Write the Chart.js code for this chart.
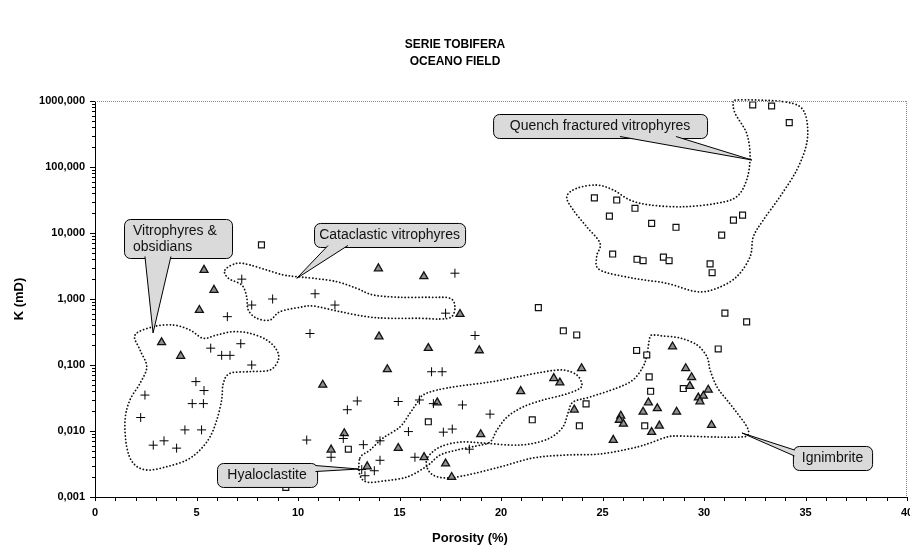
<!DOCTYPE html>
<html><head><meta charset="utf-8">
<script src="https://cdn.jsdelivr.net/npm/chart.js@4/dist/chart.umd.min.js"></script>
<style>html,body{margin:0;padding:0;background:#fff}</style>
</head><body>
<canvas id="c" width="910" height="546"></canvas>
<script>
// ---------- DATA ----------
const chartTitle = ['SERIE TOBIFERA', 'OCEANO FIELD'];
const xAxisTitle = 'Porosity (%)';
const yAxisTitle = 'K (mD)';
const xTickLabels = ['0','5','10','15','20','25','30','35','40'];
const xTickValues = [0,5,10,15,20,25,30,35,40];
const yTickLabels = ['0,001','0,010','0,100','1,000','10,000','100,000','1000,000'];
const yMajorTicks = [0.001,0.01,0.1,1,10,100,1000];

// Series 1: crosses
const crossX = [7.23,7.72,8.75,6.52,5.70,6.24,6.65,7.18,7.72,4.97,5.37,4.79,5.34,2.46,2.25,4.43,5.25,2.87,3.40,4.02,
  17.73,10.84,11.82,17.27,10.59,18.72,16.58,17.10,12.92,12.43,14.94,15.98,16.67,18.10,19.46,10.43,12.23,11.63,13.22,14.04,
  15.44,17.16,17.60,14.04,15.76,18.44,13.14,13.76,13.30];
const crossK = [2.0,0.81,1.0,0.54,0.18,0.14,0.14,0.21,0.10,0.056,0.041,0.026,0.026,0.035,0.016,0.0104,0.0104,0.0061,0.0071,0.0055,
  2.46,1.2,0.81,0.61,0.30,0.28,0.079,0.079,0.0285,0.021,0.028,0.0295,0.026,0.0248,0.018,0.0073,0.0077,0.0040,0.0062,0.0071,
  0.0098,0.0096,0.0107,0.0036,0.0040,0.0053,0.0026,0.0025,0.0021];
// Series 2: triangles
const triX = [5.37,5.86,5.14,3.28,4.22,
  13.96,16.20,17.98,13.99,16.42,18.93,14.40,11.22,16.86,12.28,11.63,19.00,14.94,16.21,17.27,13.41,17.57,
  28.45,23.97,22.60,22.90,20.97,23.61,27.26,27.00,27.70,28.65,25.90,25.83,26.03,27.80,27.42,25.53,29.10,29.39,29.30,30.21,29.72,29.97,29.80,30.37];
const triK = [2.75,1.37,0.68,0.22,0.137,
  2.9,2.2,0.59,0.27,0.18,0.166,0.086,0.05,0.027,0.0092,0.0052,0.0089,0.0055,0.0040,0.0032,0.0029,0.0020,
  0.19,0.089,0.063,0.054,0.040,0.021,0.027,0.0195,0.022,0.0195,0.017,0.0147,0.0128,0.012,0.0096,0.0073,0.089,0.065,0.048,0.042,0.032,0.034,0.028,0.0123];
// Series 3: squares
const sqX = [8.20,16.42,12.48,9.40,21.84,23.07,23.73,26.68,27.18,27.30,27.37,24.19,21.54,23.86,27.08,31.03,32.10,30.70,28.98,
  32.40,33.33,34.20,24.60,25.70,25.34,26.60,27.42,28.62,30.87,31.45,31.90,25.50,26.70,27.00,28.00,28.28,30.30,30.40];
const sqK = [6.6,0.0138,0.0053,0.0014,0.74,0.33,0.285,0.166,0.142,0.066,0.040,0.0257,0.0148,0.012,0.012,0.61,0.45,0.175,0.044,
  870,840,470,34,31.6,18,23.7,14,12.2,9.3,15.7,18.7,4.8,4.0,3.8,4.3,3.8,3.4,2.5];

// Region outlines: [porosity, log10(K)]
const regionVitro = [[1.97,-0.545],[2.87,-0.42],[3.86,-0.394],[4.68,-0.47],[5.33,-0.595],[6.0,-0.545],[6.81,-0.495],[7.64,-0.52],[8.46,-0.621],[8.95,-0.773],[9.03,-0.924],[8.62,-1.076],[7.64,-1.1],[6.65,-1.126],[6.32,-1.277],[6.24,-1.53],[6.0,-1.833],[5.67,-2.086],[5.17,-2.288],[4.52,-2.44],[3.53,-2.541],[2.55,-2.591],[1.89,-2.489],[1.56,-2.238],[1.48,-1.833],[1.72,-1.53],[2.22,-1.277],[2.55,-1.026],[2.22,-0.773]];
const regionCata = [[6.40,0.439],[6.98,0.541],[7.64,0.515],[8.46,0.439],[9.28,0.364],[9.94,0.338],[10.75,0.314],[11.91,0.262],[12.89,0.162],[13.71,0.061],[15.02,0.026],[16.50,0.026],[17.49,0.011],[17.73,-0.117],[17.57,-0.268],[17.0,-0.303],[16.01,-0.292],[14.53,-0.292],[13.38,-0.268],[12.07,-0.192],[10.75,-0.106],[10.10,-0.126],[9.11,-0.192],[8.62,-0.318],[7.97,-0.292],[7.55,-0.167],[7.47,0.035],[7.23,0.212],[6.57,0.314]];
const regionHyalo = [[13.05,-2.409],[13.55,-2.288],[14.19,-2.106],[15.02,-1.939],[15.52,-1.727],[15.86,-1.576],[16.16,-1.455],[16.85,-1.379],[17.98,-1.318],[19.46,-1.258],[20.79,-1.182],[22.07,-1.106],[23.05,-1.076],[23.74,-1.152],[23.99,-1.303],[23.74,-1.379],[23.05,-1.455],[22.07,-1.53],[21.08,-1.636],[20.30,-1.788],[19.80,-1.985],[19.46,-2.167],[18.77,-2.227],[17.83,-2.288],[17.0,-2.364],[16.35,-2.53],[15.37,-2.697],[14.19,-2.758],[13.40,-2.773],[13.05,-2.667]];
const regionIgni = [[16.40,-2.394],[17.0,-2.242],[17.98,-2.167],[19.11,-2.182],[20.44,-2.212],[21.43,-2.197],[22.41,-2.106],[23.05,-1.939],[23.30,-1.727],[23.55,-1.561],[24.38,-1.485],[25.71,-1.348],[26.50,-1.227],[26.99,-1.03],[27.19,-0.848],[27.34,-0.576],[27.59,-0.545],[27.98,-0.561],[28.82,-0.591],[29.66,-0.697],[30.15,-0.879],[30.30,-1.076],[30.64,-1.333],[31.13,-1.53],[31.63,-1.727],[32.12,-1.939],[32.17,-2.061],[31.77,-2.091],[30.64,-2.091],[28.82,-2.076],[28.18,-2.091],[27.34,-2.182],[26.50,-2.258],[24.88,-2.348],[23.20,-2.364],[21.58,-2.409],[19.95,-2.545],[18.33,-2.667],[17.34,-2.712],[16.65,-2.667],[16.35,-2.545]];
const regionQuench = [[31.44,2.989],[31.53,2.814],[32.10,2.511],[32.27,2.156],[32.10,1.803],[31.61,1.55],[30.63,1.45],[28.98,1.398],[27.34,1.424],[26.35,1.5],[25.53,1.652],[24.71,1.727],[23.73,1.677],[23.24,1.55],[23.56,1.348],[24.22,1.095],[24.88,0.844],[24.71,0.641],[24.88,0.439],[26.52,0.314],[28.16,0.238],[29.64,0.111],[30.63,0.162],[31.61,0.338],[32.27,0.641],[32.43,0.944],[32.92,1.197],[33.74,1.55],[34.57,1.955],[35.06,2.359],[35.06,2.712],[34.73,2.914],[33.91,2.989],[32.60,3.015],[31.61,3.015]];

// Callouts: box [x1, logK top, x2, logK bottom], pointer base pts, tip
const calloutTexts = [['Vitrophyres &','obsidians'],['Cataclastic vitrophyres'],['Quench fractured vitrophyres'],['Hyaloclastite'],['Ignimbrite']];
const calloutBoxes = [[1.43,1.212,6.75,0.621],[10.79,1.152,18.23,0.788],[19.61,2.803,30.15,2.439],[6.01,-2.485,10.94,-2.848],[34.38,-2.227,38.28,-2.591]];
const calloutBases = [[[2.46,0.644],[3.74,0.644]],[[11.48,0.811],[12.46,0.811]],[[25.86,2.462],[28.62,2.462]],[[10.86,-2.523],[10.86,-2.614]],[[34.46,-2.288],[34.46,-2.379]]];
const calloutTips = [[2.86,-0.515],[9.94,0.314],[32.36,2.106],[13.0,-2.576],[31.87,-2.03]];

// ---------- CHART ----------
const FONT = "'Liberation Sans', Arial, sans-serif";
const zip = (xs, ys) => xs.map((v, i) => ({x: v, y: ys[i]}));
const yAllTicks = [];
yMajorTicks.forEach((d, i) => {
  if (i === yMajorTicks.length - 1) { yAllTicks.push(d); return; }
  for (let k = 1; k <= 9; k++) yAllTicks.push(+(k * d).toPrecision(10));
});

function splinePath(ctx, pts) {
  const n = pts.length;
  ctx.beginPath();
  ctx.moveTo(pts[0][0], pts[0][1]);
  for (let i = 0; i < n; i++) {
    const p0 = pts[(i - 1 + n) % n], p1 = pts[i], p2 = pts[(i + 1) % n], p3 = pts[(i + 2) % n];
    const c1 = [p1[0] + (p2[0] - p0[0]) / 6, p1[1] + (p2[1] - p0[1]) / 6];
    const c2 = [p2[0] - (p3[0] - p1[0]) / 6, p2[1] - (p3[1] - p1[1]) / 6];
    ctx.bezierCurveTo(c1[0], c1[1], c2[0], c2[1], p2[0], p2[1]);
  }
  ctx.closePath();
}

const annot = {
  id: 'annot',
  beforeDatasetsDraw(chart) {
    const {ctx, scales: {x, y}} = chart;
    const P = p => [x.getPixelForValue(p[0]), y.getPixelForValue(Math.pow(10, p[1]))];
    ctx.save();
    ctx.strokeStyle = '#111';
    ctx.lineWidth = 1.8;
    ctx.lineCap = 'round';
    ctx.setLineDash([0.1, 3.3]);
    [regionVitro, regionCata, regionHyalo, regionIgni, regionQuench].forEach(r => {
      splinePath(ctx, r.map(P));
      ctx.stroke();
    });
    ctx.restore();
  },
  afterDatasetsDraw(chart) {
    const {ctx, scales: {x, y}} = chart;
    const P = p => [x.getPixelForValue(p[0]), y.getPixelForValue(Math.pow(10, p[1]))];
    ctx.save();
    ctx.setLineDash([]);
    calloutTexts.forEach((lines, i) => {
      const b = calloutBoxes[i];
      const [x1, y1] = P([b[0], b[1]]);
      const [x2, y2] = P([b[2], b[3]]);
      const t = P(calloutTips[i]);
      const b1 = P(calloutBases[i][0]), b2 = P(calloutBases[i][1]);
      ctx.lineWidth = 1;
      ctx.strokeStyle = '#000';
      ctx.fillStyle = '#dadada';
      ctx.beginPath();
      ctx.roundRect(x1 + 0.5, y1 + 0.5, x2 - x1, y2 - y1, 6);
      ctx.fill();
      ctx.stroke();
      ctx.beginPath();
      ctx.moveTo(b1[0], b1[1]); ctx.lineTo(t[0], t[1]); ctx.lineTo(b2[0], b2[1]); ctx.closePath();
      ctx.fill();
      ctx.beginPath();
      ctx.moveTo(b1[0], b1[1]); ctx.lineTo(t[0], t[1]); ctx.lineTo(b2[0], b2[1]);
      ctx.stroke();
      ctx.fillStyle = '#111';
      ctx.font = '14px ' + FONT;
      ctx.textBaseline = 'middle';
      const cy = (y1 + y2) / 2 + 0.5;
      const lh = 16;
      lines.forEach((s, j) => {
        const ly = cy + (j - (lines.length - 1) / 2) * lh;
        if (lines.length > 1) { ctx.textAlign = 'left'; ctx.fillText(s, x1 + 9, ly); }
        else { ctx.textAlign = 'center'; ctx.fillText(s, (x1 + x2) / 2, ly); }
      });
    });
    ctx.restore();
  },
  afterDraw(chart) {
    const {ctx, chartArea: a, scales: {x, y}} = chart;
    ctx.save();
    // top & right dotted borders
    ctx.strokeStyle = '#8a8a8a';
    ctx.lineWidth = 1;
    ctx.setLineDash([1, 1]);
    ctx.beginPath();
    ctx.moveTo(a.left, a.top + 0.5); ctx.lineTo(a.right, a.top + 0.5);
    ctx.moveTo(a.right - 0.5, a.top); ctx.lineTo(a.right - 0.5, a.bottom);
    ctx.stroke();
    ctx.setLineDash([]);
    // tick marks
    ctx.strokeStyle = '#000';
    ctx.beginPath();
    x.ticks.forEach(t => {
      const px = Math.round(x.getPixelForValue(t.value)) + 0.5;
      ctx.moveTo(px, a.bottom); ctx.lineTo(px, a.bottom + 4);
    });
    y.ticks.forEach(t => {
      const py = Math.round(y.getPixelForValue(t.value)) + 0.5;
      const major = yMajorTicks.includes(t.value);
      ctx.moveTo(a.left, py); ctx.lineTo(a.left - (major ? 5 : 3), py);
    });
    ctx.stroke();
    // titles
    ctx.fillStyle = '#000';
    ctx.textAlign = 'center';
    ctx.textBaseline = 'middle';
    ctx.font = 'bold 12px ' + FONT;
    ctx.fillText(chartTitle[0], 455, 45);
    ctx.fillText(chartTitle[1], 455, 62);
    ctx.font = 'bold 13px ' + FONT;
    ctx.fillText(xAxisTitle, 470, 538);
    ctx.translate(19, (a.top + a.bottom) / 2);
    ctx.rotate(-Math.PI / 2);
    ctx.fillText(yAxisTitle, 0, 0);
    ctx.restore();
  }
};

new Chart(document.getElementById('c'), {
  type: 'scatter',
  data: {
    datasets: [
      {data: zip(crossX, crossK), pointStyle: 'cross', pointRadius: 4.5, borderColor: '#000', borderWidth: 1, backgroundColor: '#000'},
      {data: zip(triX, triK), pointStyle: 'triangle', pointRadius: 4.6, borderColor: '#111', borderWidth: 1.3, backgroundColor: '#8f8f8f'},
      {data: zip(sqX, sqK), pointStyle: 'rect', pointRadius: 4.2, borderColor: '#111', borderWidth: 1.2, backgroundColor: '#fff'}
    ]
  },
  options: {
    responsive: false,
    animation: false,
    events: [],
    layout: {autoPadding: false, padding: {top: 101, right: 3, left: 0, bottom: 0}},
    plugins: {legend: {display: false}, title: {display: false}, tooltip: {enabled: false}},
    scales: {
      x: {
        type: 'linear', min: 0, max: 40,
        afterBuildTicks: s => { const t = []; for (let v = 0; v <= 40; v++) t.push({value: v}); s.ticks = t; },
        afterFit: s => { s.height = 49; s.paddingLeft = 0; s.paddingRight = 0; },
        grid: {display: true, drawOnChartArea: false, drawTicks: true, tickLength: 5, color: 'rgba(0,0,0,0)'},
        border: {display: true, color: '#000', width: 1},
        ticks: {
          autoSkip: false, maxRotation: 0, minRotation: 0, padding: 4, color: '#000',
          font: {family: FONT, size: 11, weight: 'bold'},
          callback: v => { const i = xTickValues.indexOf(v); return i >= 0 ? xTickLabels[i] : ''; }
        }
      },
      y: {
        type: 'logarithmic', min: 0.001, max: 1000,
        afterBuildTicks: s => { s.ticks = yAllTicks.map(v => ({value: v})); },
        afterFit: s => { s.width = 95; s.paddingTop = 0; s.paddingBottom = 0; },
        grid: {display: true, drawOnChartArea: false, drawTicks: true, tickLength: 5, color: 'rgba(0,0,0,0)'},
        border: {display: true, color: '#000', width: 1},
        ticks: {
          autoSkip: false, padding: 5, color: '#000',
          font: {family: FONT, size: 11, weight: 'bold'},
          callback: v => { const i = yMajorTicks.indexOf(v); return i >= 0 ? yTickLabels[i] : ''; }
        }
      }
    }
  },
  plugins: [annot]
});
</script>
</body></html>
